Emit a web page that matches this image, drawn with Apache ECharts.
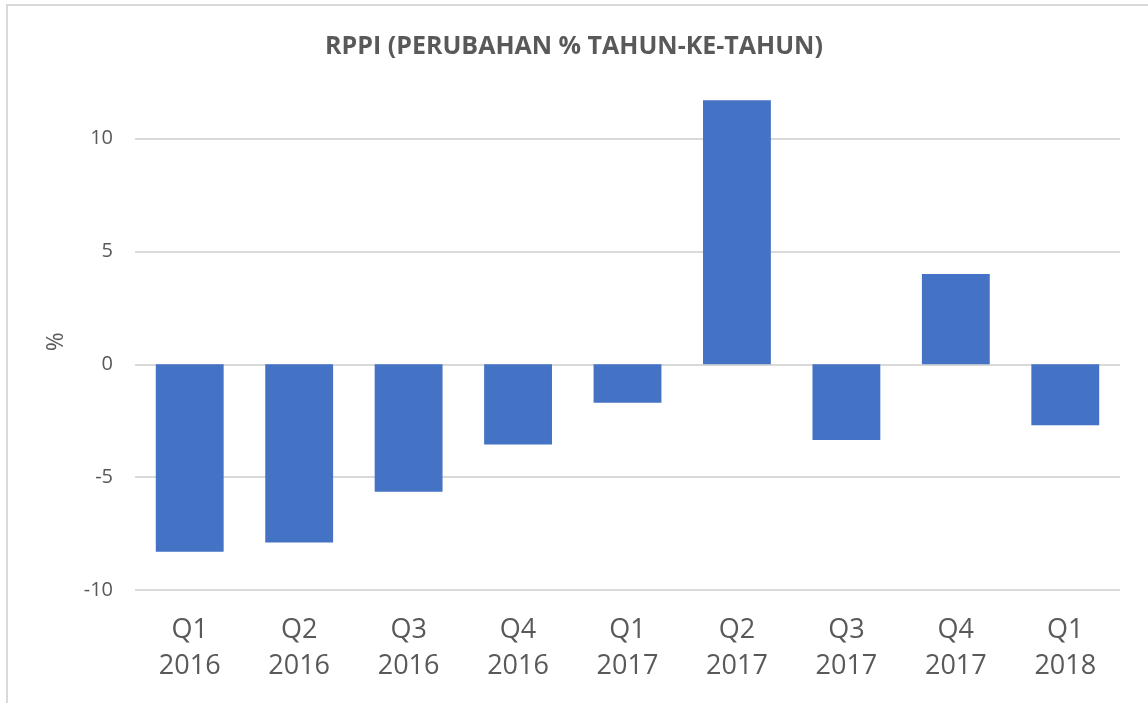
<!DOCTYPE html>
<html>
<head>
<meta charset="utf-8">
<script src="https://cdn.jsdelivr.net/npm/echarts@6/dist/echarts.min.js"></script>
<style>
  html, body { margin: 0; padding: 0; background: #fff; }
  #chart { width: 1148px; height: 703px; }
</style>
</head>
<body>
<div id="chart"></div>
<script>
// data
var quarters = ['Q1\n2016', 'Q2\n2016', 'Q3\n2016', 'Q4\n2016', 'Q1\n2017', 'Q2\n2017', 'Q3\n2017', 'Q4\n2017', 'Q1\n2018'];
var rppiYoY = [-8.3, -7.9, -5.65, -3.55, -1.7, 11.7, -3.35, 4.0, -2.7];

var textColor = '#595959';
var gridColor = '#d9d9d9';
var font = '"Open Sans", "Liberation Sans", sans-serif';

var chart = echarts.init(document.getElementById('chart'));

chart.setOption({
    animation: false,
    backgroundColor: '#fff',
    textStyle: { fontFamily: font },
    title: {
        text: 'RPPI (PERUBAHAN % TAHUN-KE-TAHUN)',
        left: 'center',
        top: 29,
        textStyle: { color: textColor, fontSize: 25, fontWeight: 'bold', fontFamily: font }
    },
    // thin frame like the chart area border
    graphic: [{
        type: 'rect',
        shape: { x: 7, y: 5, width: 1200, height: 760 },
        style: { fill: 'none', stroke: gridColor, lineWidth: 2 },
        silent: true
    }],
    grid: { left: 135, right: 28, top: 93.5, bottom: 113 },
    xAxis: {
        type: 'category',
        data: quarters,
        axisLine: { show: false },
        axisTick: { show: false },
        axisLabel: {
            color: textColor,
            fontSize: 27,
            lineHeight: 36,
            margin: 22,
            interval: 0
        }
    },
    yAxis: {
        type: 'value',
        min: -10,
        max: 12,
        interval: 5,
        name: '%',
        nameLocation: 'middle',
        nameRotate: 90,
        nameGap: 67,
        nameTextStyle: { color: textColor, fontSize: 23 },
        axisLine: { show: false },
        axisTick: { show: false },
        axisLabel: { color: textColor, fontSize: 20, margin: 22, showMaxLabel: false },
        splitLine: { showMaxLine: false, lineStyle: { color: gridColor, width: 2 } }
    },
    series: [{
        type: 'bar',
        data: rppiYoY,
        barWidth: '62%',
        itemStyle: { color: '#4472c4' }
    }]
});
</script>
</body>
</html>
